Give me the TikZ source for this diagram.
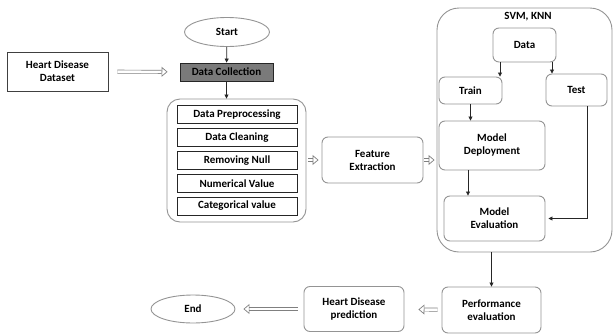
\documentclass[tikz,border=0pt]{standalone}
\usepackage{fontspec}
\setmainfont{Carlito}
\usetikzlibrary{arrows.meta,shapes.geometric,positioning}

\tikzset{
  lbl/.style={font=\bfseries\fontsize{11}{13}\selectfont,align=center,inner sep=0pt},
  rbox/.style={lbl,draw=black!42,line width=0.9pt,rounded corners=6pt},
  lbox/.style={lbl,draw=black!85,line width=0.9pt,minimum width=120pt,minimum height=18pt},
  oval/.style={lbl,ellipse,draw=black!42,line width=0.9pt},
  arr/.style={-{Triangle[length=4pt,width=4pt]},line width=0.8pt,black!85},
  hollow/.style={draw=black!50,line width=0.7pt,double=white,double distance=2.5pt,
    -{Triangle[open,length=6pt,width=10pt]}}
}

\begin{document}
\begin{tikzpicture}[x=1pt,y=-1pt]
        \useasboundingbox (0,0) rectangle (614,335);
        \node[oval,minimum width=85pt,minimum height=29pt] (start) at (227,32) {Start};
        \node[lbl,draw=black!75,line width=0.9pt,minimum width=101pt,minimum height=39pt] (dataset) at (57.5,71.5) {Heart Disease\\Dataset};
        \node[lbl,draw=black!85,fill=black!52,line width=0.9pt,minimum width=93pt,minimum height=18pt] (collect) at (226.5,72) {Data Collection};
        \node[rbox,rounded corners=13pt,minimum width=139pt,minimum height=123pt] (group) at (236.5,160.5) {};
        \foreach \n/\t/\y in {prep/Data Preprocessing/114.5, clean/Data Cleaning/137.5, null/Removing Null/160.5, num/Numerical Value/183.5, cat/Categorical value/206}
        \node[lbox] (\n) at (237,\y) {\t};
        \node[rbox,minimum width=101pt,minimum height=46pt] (feat) at (372.5,160) {Feature\\Extraction};
        \node[rbox,rounded corners=22pt,minimum width=175pt,minimum height=244pt] (model) at (524.5,130) {};
        \node[lbl] (algo) at (528,17) {SVM, KNN};
        \node[rbox,minimum width=63pt,minimum height=34pt] (data) at (524.5,45) {Data};
        \node[rbox,minimum width=63pt,minimum height=27pt] (train) at (470.5,90.5) {Train};
        \node[rbox,minimum width=61pt,minimum height=32pt] (test) at (576.5,90) {Test};
        \node[rbox,minimum width=106pt,minimum height=49pt] (deploy) at (492,145.5) {Model\\Deployment};
        \node[rbox,minimum width=101pt,minimum height=45pt] (eval) at (494.5,218.5) {Model\\Evaluation};
        \node[rbox,minimum width=99pt,minimum height=46pt] (perf) at (491.5,310) {Performance\\evaluation};
        \node[rbox,minimum width=100pt,minimum height=45pt] (pred) at (354,309) {Heart Disease\\prediction};
        \node[oval,minimum width=84pt,minimum height=28pt] (stop) at (193,309) {End};

        \draw[arr] (start) -- (collect);
        \draw[arr] (collect.south) -- (collect.south |- group.north);
        \draw[hollow,shorten <=9pt,shorten >=12pt] (dataset) -- (collect);
        \draw[hollow,shorten <=2pt,shorten >=3pt] (group.east |- feat) -- (feat);
        \draw[hollow,shorten <=1pt,shorten >=2pt] (feat) -- (feat -| model.west);
        \draw[arr] (data.south -| 500,0) -- (train.north -| 500,0);
        \draw[arr] (data.south -| 552,0) -- (test.north -| 552,0);
        \draw[arr] (train.south) -- (train.south |- deploy.north);
        \draw[arr] (deploy.south -| 468,0) -- (eval.north -| 468,0);
        \draw[arr] (test.south -| 587,0) |- ([xshift=3pt]eval.east);
        \draw[arr] (model.south -| perf.north) -- (perf.north);
        \draw[hollow,shorten <=4pt,shorten >=14pt] (perf) -- (pred);
        \draw[hollow,shorten <=6pt,shorten >=8pt] (pred) -- (stop);
        \end{tikzpicture}
\end{document}
